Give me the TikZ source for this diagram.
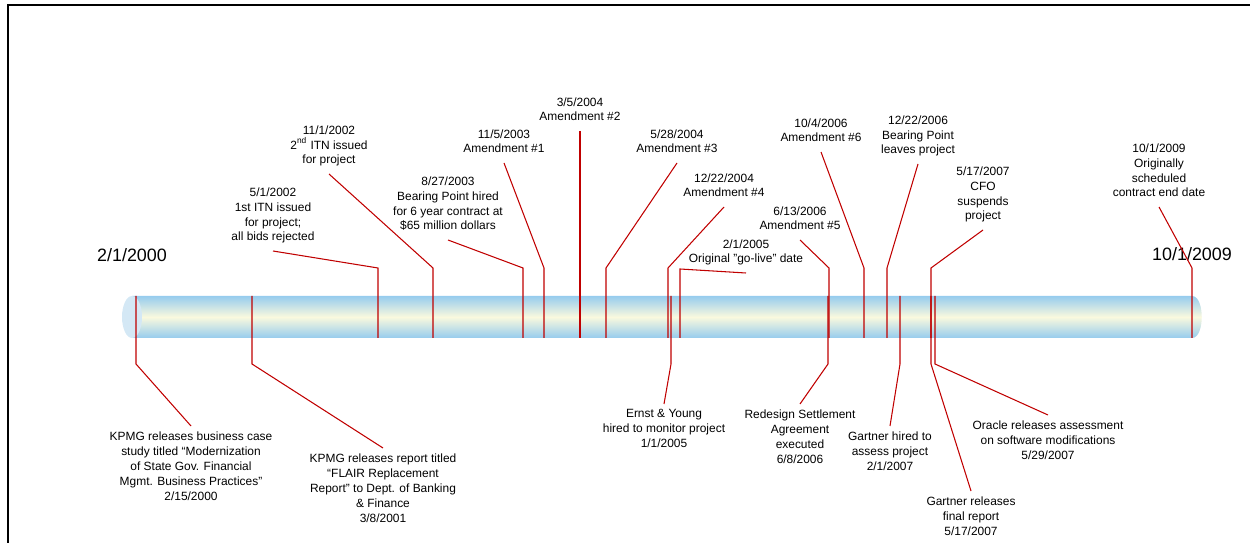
\documentclass[tikz,border=0pt]{standalone}
\usepackage{fontspec}
\setmainfont{Liberation Sans}
\usepackage{tikz}
\definecolor{leadred}{RGB}{192,0,0}
\definecolor{tubeblue}{RGB}{150,204,238}
\definecolor{tubecream}{RGB}{250,249,222}
\definecolor{capblue}{RGB}{212,232,245}
\tikzset{
    evtop/.style={align=center, anchor=south, inner sep=3pt, text depth=0.25em, font=\fontsize{6.8}{8.5}\selectfont},
    evbot/.style={align=center, anchor=north, inner sep=3pt, font=\fontsize{6.8}{8.5}\selectfont},
    bigdate/.style={font=\fontsize{10.2}{12}\selectfont},
    leader/.style={draw=leadred, line width=0.6pt},
    tube/.style={top color=tubeblue, bottom color=tubeblue, middle color=tubecream} }
\usetikzlibrary{positioning}

\begin{document}
\begin{tikzpicture}[x=0.02cm, y=-0.02cm]
            \useasboundingbox (0,0) rectangle (1250,543);
            \draw[line width=1.2pt] (8,543) -- (8,5) -- (1250,5);
            % the tube
            \path[tube] (132,296) -- (1192,296) .. controls (1205,296) and (1205,338) .. (1192,338) -- (132,338) -- cycle;
            \fill[capblue] (132,317) ellipse [x radius=0.2cm, y radius=0.42cm];
            \coordinate (bartop) at (0,296);
            \coordinate (barbot) at (0,338);
            \node[bigdate] (start) at (132,255) {2/1/2000};
            \node[bigdate] (finish) at (1192,254) {10/1/2009};
            % ---- above the tube
            \node[evtop] (itn1) at (273,251) {5/1/2002\\1st ITN issued\\for project;\\all bids rejected};
            \node[evtop] (itn2) at (329,174) {11/1/2002\\2\textsuperscript{nd} ITN issued\\for project};
            \node[evtop] (bph) at (448,240) {8/27/2003\\Bearing Point hired\\for 6 year contract at\\\$65 million dollars};
            \node[evtop] (am1) at (504,163) {11/5/2003\\Amendment \#1};
            \node[evtop] (am2) at (580,131) {3/5/2004\\Amendment \#2};
            \node[evtop] (am3) at (677,163) {5/28/2004\\Amendment \#3};
            \node[evtop] (am4) at (724,207) {12/22/2004\\Amendment \#4};
            \node[evtop] (gol) at (746,273) {2/1/2005\\Original "go-live" date};
            \node[evtop] (am5) at (800,240) {6/13/2006\\Amendment \#5};
            \node[evtop] (am6) at (821,152) {10/4/2006\\Amendment \#6};
            \node[evtop] (bpl) at (918,164) {12/22/2006\\Bearing Point\\leaves project};
            \node[evtop] (cfo) at (983,230) {5/17/2007\\CFO\\suspends\\project};
            \node[evtop] (end) at (1159,207) {10/1/2009\\Originally\\scheduled\\contract end date};
            % ---- below the tube
            \node[evbot] (kp1) at (191,426) {KPMG releases business case\\study titled “Modernization\\of State Gov. Financial\\Mgmt. Business Practices”\\2/15/2000};
            \node[evbot] (kp2) at (383,448) {KPMG releases report titled\\“FLAIR Replacement\\Report” to Dept. of Banking\\\& Finance\\3/8/2001};
            \node[evbot] (ey) at (664,404) {Ernst \& Young\\hired to monitor project\\1/1/2005};
            \node[evbot] (rsa) at (800,404) {Redesign Settlement\\Agreement\\executed\\6/8/2006};
            \node[evbot] (gh) at (890,426) {Gartner hired to\\assess project\\2/1/2007};
            \node[evbot] (gr) at (971,491) {Gartner releases\\final report\\5/17/2007};
            \node[evbot] (orc) at (1048,415) {Oracle releases assessment\\on software modifications\\5/29/2007};
            % ---- kinks
            \coordinate (kitn1) at (378,268);
            \coordinate (kitn2) at (433,268);
            \coordinate (kbph) at (523,268);
            \coordinate (kam1) at (544,268);
            \coordinate (kam3) at (606,268);
            \coordinate (kam4) at (668,268);
            \coordinate (kgol) at (680,269);
            \coordinate (kam5) at (829,268);
            \coordinate (kam6) at (864,268);
            \coordinate (kbpl) at (887,268);
            \coordinate (kcfo) at (931,268);
            \coordinate (kend) at (1192,268);
            \coordinate (kkp1) at (136,364);
            \coordinate (kkp2) at (252,364);
            \coordinate (key) at (671,364);
            \coordinate (krsa) at (828,364);
            \coordinate (kgh) at (900,364);
            \coordinate (kgr) at (931,364);
            \coordinate (korc) at (935,364);
            \draw[leader] (itn1.south) -- (kitn1) -- (kitn1 |- barbot);
            \draw[leader] (itn2.south) -- (kitn2) -- (kitn2 |- barbot);
            \draw[leader] (bph.south) -- (kbph) -- (kbph |- barbot);
            \draw[leader] (am1.south) -- (kam1) -- (kam1 |- barbot);
            \draw[leader] (am2.south) -- (am2.south |- barbot);
            \draw[leader] (am3.south) -- (kam3) -- (kam3 |- barbot);
            \draw[leader] (am4.south) -- (kam4) -- (kam4 |- barbot);
            \draw[leader] (gol.south) -- (kgol) -- (kgol |- barbot);
            \draw[leader] (am5.south) -- (kam5) -- (kam5 |- barbot);
            \draw[leader] (am6.south) -- (kam6) -- (kam6 |- barbot);
            \draw[leader] (bpl.south) -- (kbpl) -- (kbpl |- barbot);
            \draw[leader] (cfo.south) -- (kcfo) -- (kcfo |- barbot);
            \draw[leader] (end.south) -- (kend) -- (kend |- barbot);
            \draw[leader] (kp1.north) -- (kkp1) -- (kkp1 |- bartop);
            \draw[leader] (kp2.north) -- (kkp2) -- (kkp2 |- bartop);
            \draw[leader] (ey.north) -- (key) -- (key |- bartop);
            \draw[leader] (rsa.north) -- (krsa) -- (krsa |- bartop);
            \draw[leader] (gh.north) -- (kgh) -- (kgh |- bartop);
            \draw[leader] (gr.north) -- (kgr) -- (kgr |- bartop);
            \draw[leader] (orc.north) -- (korc) -- (korc |- bartop);
\end{tikzpicture}
\end{document}
